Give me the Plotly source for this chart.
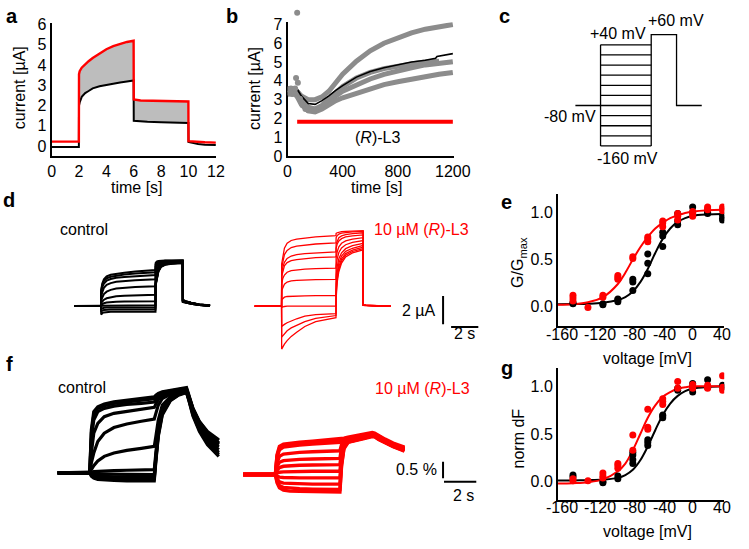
import plotly.graph_objects as go

W, H = 749, 549
FONT = "Arial, 'Liberation Sans', sans-serif"
RED = "#ff0000"
BLACK = "#000000"

# ---------------- panel a ----------------
A_TIME = [0, 1.99, 2.0, 2.05, 2.2, 2.45, 2.7, 3.0, 3.5, 4.0, 4.5, 5.0, 5.5, 5.99,
          6.0, 6.5, 7.0, 8.0, 9.0, 9.99, 10.0, 10.3, 10.7, 11.2, 12.0]
A_RL3 = [0.22, 0.22, 3.55, 3.7, 3.87, 4.05, 4.19, 4.35, 4.58, 4.78, 4.93, 5.05, 5.14, 5.2,
         2.3, 2.25, 2.24, 2.22, 2.21, 2.2, 0.24, 0.22, 0.2, 0.19, 0.17]
A_CONTROL = [-0.05, -0.05, 2.0, 2.15, 2.43, 2.62, 2.72, 2.85, 2.95, 3.02, 3.08, 3.14, 3.19, 3.24,
             1.25, 1.22, 1.2, 1.18, 1.16, 1.14, 0.2, 0.15, 0.1, 0.07, 0.05]
A_FILL_START, A_FILL_END = 2.0, 9.99

# ---------------- panel b ----------------
B_TIME = [0, 25, 50, 75, 100, 150, 200, 250, 300, 350, 400, 500, 600, 700, 800, 900, 1000, 1100, 1200]
B_CELL1 = [3.6, 3.6, 3.6, 3.4, 3.2, 3.0, 3.0, 3.15, 3.45, 3.9, 4.35, 5.05, 5.6, 6.0, 6.3, 6.55, 6.75, 6.9, 7.0]
B_CELL2 = [3.3, 3.3, 3.3, 3.2, 2.9, 2.55, 2.5, 2.65, 2.95, 3.2, 3.45, 3.8, 4.1, 4.35, 4.55, 4.7, 4.85, 4.95, 5.02]
B_CELL3 = [3.3, 3.3, 3.35, 3.1, 2.75, 2.4, 2.35, 2.5, 2.75, 2.95, 3.1, 3.35, 3.6, 3.8, 3.95, 4.1, 4.25, 4.35, 4.45]
B_CELL4 = [3.4, 3.4, 3.5, 3.4, 3.0, 2.6, 2.5, 2.7, 3.05, 3.4, 3.7, 4.15, 4.45, 4.65, 4.8, 4.9, 5.0, 5.05, None]
B_MEAN_T = [0, 25, 50, 60, 75, 100, 150, 200, 250, 300, 350, 400, 500, 600, 700, 800, 900, 1000, 1075, 1085, 1200]
B_MEAN = [3.4, 3.45, 3.55, 3.7, 3.5, 3.2, 2.8, 2.75, 2.95, 3.2, 3.5, 3.75, 4.2, 4.5, 4.7, 4.85, 5.0, 5.1, 5.2, 5.3, 5.45]
B_EARLY_T = [5, 15, 25, 35, 45, 55, 70, 62, 75, 90, 110, 130, 150, 170]
B_EARLY_I = [3.55, 3.35, 3.6, 3.3, 3.45, 3.6, 7.62, 4.15, 3.9, 3.05, 2.7, 2.5, 2.45, 2.5]
B_DRUG_T = [70, 1200]
B_DRUG_LEVEL = 1.83

# ---------------- panel c ----------------
C_TIME = [0, 2, 6, 8, 10]
C_HOLD = -80
C_STEPS = [-160, -140, -120, -100, -80, -60, -40, -20, 0, 20, 40]
C_POST = 60

# ---------------- panel d ----------------
VOLTAGES = [40, 20, 0, -20, -40, -60, -80, -100, -120, -140, -160]
D_TIME = [0, 1.99, 2.0, 2.08, 2.2, 2.4, 2.7, 3.1, 3.7, 4.5, 5.99,
          6.0, 6.08, 6.2, 6.4, 6.7, 7.2, 7.99,
          8.0, 8.2, 8.6, 9.2, 10.0]
D_CTRL_TRACES = [
    [0, 0, 1.15, 1.6, 1.9, 2.1, 2.22, 2.3, 2.37, 2.45, 2.55, 3.05, 3.15, 3.2, 3.22, 3.23, 3.24, 3.25, 0.3, 0.25, 0.17, 0.08, 0.02],
    [0, 0, 1.05, 1.5, 1.78, 1.97, 2.08, 2.16, 2.24, 2.31, 2.4, 2.95, 3.08, 3.15, 3.19, 3.21, 3.22, 3.23, 0.32, 0.26, 0.17, 0.08, 0.02],
    [0, 0, 0.95, 1.35, 1.6, 1.8, 1.92, 2.0, 2.06, 2.12, 2.2, 2.8, 2.98, 3.08, 3.14, 3.17, 3.19, 3.2, 0.3, 0.25, 0.16, 0.07, 0.01],
    [0, 0, 0.75, 1.05, 1.3, 1.5, 1.63, 1.72, 1.78, 1.83, 1.9, 2.6, 2.85, 2.98, 3.07, 3.12, 3.15, 3.17, 0.34, 0.27, 0.18, 0.09, 0.03],
    [0, 0, 0.45, 0.65, 0.85, 1.02, 1.15, 1.24, 1.31, 1.35, 1.4, 2.3, 2.6, 2.85, 3.0, 3.08, 3.12, 3.15, 0.36, 0.29, 0.19, 0.09, 0.02],
    [0, 0, 0.25, 0.35, 0.45, 0.55, 0.63, 0.69, 0.74, 0.77, 0.8, 1.9, 2.35, 2.7, 2.93, 3.03, 3.09, 3.12, 0.38, 0.3, 0.2, 0.1, 0.03],
    [0, 0, 0.1, 0.15, 0.2, 0.25, 0.28, 0.3, 0.32, 0.33, 0.35, 1.7, 2.2, 2.6, 2.88, 3.0, 3.06, 3.1, 0.4, 0.31, 0.21, 0.1, 0.03],
    [0, 0, 0.0, 0.02, 0.03, 0.04, 0.04, 0.05, 0.05, 0.05, 0.05, 1.6, 2.1, 2.55, 2.85, 2.98, 3.04, 3.08, 0.4, 0.32, 0.22, 0.11, 0.04],
    [0, 0, -0.2, -0.15, -0.12, -0.1, -0.1, -0.1, -0.1, -0.1, -0.1, 1.55, 2.05, 2.5, 2.82, 2.96, 3.03, 3.07, 0.42, 0.33, 0.22, 0.11, 0.04],
    [0, 0, -0.4, -0.32, -0.28, -0.26, -0.25, -0.25, -0.25, -0.25, -0.25, 1.5, 2.0, 2.47, 2.8, 2.95, 3.02, 3.06, 0.43, 0.34, 0.23, 0.12, 0.04],
    [0, 0, -0.6, -0.5, -0.45, -0.42, -0.41, -0.4, -0.4, -0.4, -0.4, 1.45, 1.95, 2.43, 2.78, 2.93, 3.0, 3.05, 0.44, 0.35, 0.24, 0.12, 0.05],
]
D_RL3_TRACES = [
    [0, 0, 3.0, 3.6, 4.1, 4.45, 4.65, 4.75, 4.83, 4.9, 4.99, 5.15, 5.2, 5.25, 5.28, 5.3, 5.32, 5.35, 0.06, 0.05, 0.03, 0.02, 0.0],
    [0, 0, 2.7, 3.2, 3.65, 3.95, 4.15, 4.25, 4.33, 4.4, 4.48, 4.85, 5.0, 5.1, 5.17, 5.22, 5.26, 5.3, 0.06, 0.05, 0.03, 0.02, 0.0],
    [0, 0, 2.3, 2.75, 3.1, 3.38, 3.55, 3.65, 3.72, 3.78, 3.84, 4.4, 4.65, 4.85, 4.98, 5.07, 5.14, 5.2, 0.05, 0.04, 0.03, 0.01, 0.0],
    [0, 0, 2.1, 2.5, 2.85, 3.08, 3.22, 3.3, 3.37, 3.43, 3.49, 4.1, 4.4, 4.62, 4.78, 4.9, 4.98, 5.05, 0.05, 0.04, 0.02, 0.01, 0.0],
    [0, 0, 1.6, 1.95, 2.2, 2.4, 2.52, 2.58, 2.62, 2.66, 2.69, 3.4, 3.85, 4.2, 4.45, 4.62, 4.75, 4.85, 0.05, 0.04, 0.02, 0.01, 0.0],
    [0, 0, 1.1, 1.35, 1.55, 1.7, 1.78, 1.82, 1.85, 1.87, 1.89, 2.8, 3.35, 3.8, 4.12, 4.35, 4.52, 4.65, 0.06, 0.05, 0.03, 0.02, 0.0],
    [0, 0, 0.45, 0.55, 0.63, 0.68, 0.7, 0.72, 0.73, 0.74, 0.74, 2.1, 2.8, 3.35, 3.78, 4.07, 4.28, 4.45, 0.06, 0.05, 0.03, 0.02, 0.0],
    [0, 0, -0.1, -0.06, -0.03, -0.01, 0, 0, 0, 0, 0, 1.6, 2.4, 3.05, 3.55, 3.88, 4.1, 4.3, 0.07, 0.05, 0.03, 0.02, 0.0],
    [0, 0, -1.45, -1.38, -1.3, -1.18, -1.05, -0.9, -0.72, -0.6, -0.53, 1.1, 2.1, 2.8, 3.35, 3.72, 3.97, 4.18, 0.07, 0.05, 0.03, 0.02, 0.0],
    [0, 0, -2.2, -2.1, -1.95, -1.75, -1.55, -1.35, -1.1, -0.88, -0.67, 0.8, 1.9, 2.62, 3.2, 3.6, 3.87, 4.08, 0.07, 0.05, 0.03, 0.02, 0.0],
    [0, 0, -3.05, -2.9, -2.7, -2.45, -2.15, -1.85, -1.45, -1.1, -0.82, 0.5, 1.7, 2.45, 3.05, 3.48, 3.77, 3.98, 0.08, 0.06, 0.04, 0.02, 0.0],
]
D_SCALE_UA = 2
D_SCALE_S = 2

# ---------------- panel f ----------------
F_TIME = [0, 2.0, 2.1, 2.25, 2.5, 2.9, 3.5, 4.3, 5.2, 6.0,
          6.1, 6.25, 6.5, 7.0, 7.5, 8.0,
          8.15, 8.4, 8.8, 9.3, 10.0]
F_CTRL_TRACES = [
    [0, 0, 1.3, 1.85, 2.0, 2.08, 2.15, 2.2, 2.25, 2.3, 2.35, 2.4, 2.45, 2.5, 2.55, 2.58, 2.35, 1.95, 1.55, 1.22, 0.98],
    [0, 0, 1.2, 1.75, 1.95, 2.03, 2.1, 2.15, 2.2, 2.24, 2.3, 2.37, 2.43, 2.48, 2.52, 2.55, 2.32, 1.92, 1.5, 1.17, 0.9],
    [0, 0, 1.0, 1.6, 1.85, 1.95, 2.02, 2.07, 2.1, 2.14, 2.22, 2.32, 2.4, 2.46, 2.5, 2.53, 2.3, 1.9, 1.48, 1.15, 0.88],
    [0, 0, 0.6, 1.2, 1.5, 1.7, 1.8, 1.86, 1.93, 1.98, 2.08, 2.22, 2.33, 2.42, 2.47, 2.5, 2.28, 1.88, 1.45, 1.12, 0.85],
    [0, 0, 0.3, 0.6, 0.95, 1.2, 1.37, 1.48, 1.56, 1.63, 1.8, 2.05, 2.25, 2.38, 2.45, 2.5, 2.3, 1.95, 1.55, 1.25, 1.0],
    [0, 0, 0.1, 0.22, 0.36, 0.5, 0.6, 0.68, 0.74, 0.8, 1.1, 1.6, 2.05, 2.3, 2.42, 2.48, 2.25, 1.85, 1.4, 1.05, 0.78],
    [0, 0, 0.02, 0.04, 0.05, 0.06, 0.07, 0.08, 0.09, 0.1, 0.6, 1.35, 1.95, 2.28, 2.4, 2.47, 2.27, 1.9, 1.5, 1.15, 0.9],
    [0, 0, -0.03, -0.04, -0.04, -0.04, -0.04, -0.04, -0.05, -0.05, 0.5, 1.25, 1.9, 2.25, 2.38, 2.46, 2.24, 1.82, 1.38, 1.0, 0.7],
    [0, 0, -0.05, -0.08, -0.1, -0.11, -0.12, -0.12, -0.12, -0.12, 0.45, 1.2, 1.85, 2.22, 2.37, 2.45, 2.22, 1.8, 1.35, 0.95, 0.62],
    [0, 0, -0.07, -0.12, -0.15, -0.16, -0.17, -0.18, -0.18, -0.18, 0.4, 1.15, 1.8, 2.2, 2.36, 2.44, 2.2, 1.75, 1.3, 0.9, 0.56],
    [0, 0, -0.1, -0.16, -0.2, -0.22, -0.23, -0.24, -0.24, -0.24, 0.35, 1.1, 1.75, 2.18, 2.35, 2.43, 2.18, 1.72, 1.25, 0.85, 0.5],
]
F_RL3_TRACES = [
    [-0.05, -0.05, 0.55, 0.8, 0.87, 0.9, 0.93, 0.96, 0.99, 1.02, 1.03, 1.05, 1.08, 1.12, 1.16, 1.22, 1.2, 1.12, 1.02, 0.9, 0.78],
    [-0.05, -0.05, 0.5, 0.75, 0.83, 0.86, 0.89, 0.92, 0.95, 0.98, 1.0, 1.03, 1.06, 1.1, 1.14, 1.2, 1.18, 1.1, 1.0, 0.88, 0.75],
    [-0.05, -0.05, 0.45, 0.7, 0.78, 0.81, 0.84, 0.87, 0.9, 0.92, 0.97, 1.0, 1.04, 1.08, 1.13, 1.19, 1.17, 1.09, 0.99, 0.87, 0.74],
    [-0.05, -0.05, 0.3, 0.5, 0.57, 0.6, 0.62, 0.64, 0.66, 0.67, 0.85, 0.95, 1.01, 1.06, 1.11, 1.17, 1.16, 1.08, 0.98, 0.86, 0.73],
    [-0.05, -0.05, 0.2, 0.32, 0.37, 0.39, 0.41, 0.42, 0.43, 0.44, 0.75, 0.92, 0.99, 1.05, 1.1, 1.16, 1.15, 1.07, 0.97, 0.85, 0.72],
    [-0.05, -0.05, 0.08, 0.16, 0.2, 0.22, 0.23, 0.24, 0.25, 0.25, 0.65, 0.9, 0.98, 1.04, 1.09, 1.15, 1.14, 1.06, 0.96, 0.84, 0.71],
    [-0.05, -0.05, -0.01, 0.02, 0.03, 0.04, 0.04, 0.05, 0.05, 0.05, 0.55, 0.87, 0.97, 1.03, 1.08, 1.14, 1.13, 1.05, 0.95, 0.83, 0.7],
    [-0.05, -0.05, -0.1, -0.13, -0.14, -0.15, -0.15, -0.15, -0.15, -0.15, 0.45, 0.84, 0.96, 1.02, 1.07, 1.13, 1.12, 1.04, 0.94, 0.82, 0.69],
    [-0.05, -0.05, -0.18, -0.27, -0.31, -0.32, -0.33, -0.34, -0.34, -0.34, 0.35, 0.8, 0.94, 1.01, 1.06, 1.12, 1.11, 1.03, 0.93, 0.81, 0.68],
    [-0.05, -0.05, -0.25, -0.38, -0.44, -0.46, -0.48, -0.49, -0.5, -0.5, 0.25, 0.76, 0.93, 1.0, 1.05, 1.11, 1.1, 1.02, 0.92, 0.8, 0.67],
    [-0.05, -0.05, -0.3, -0.45, -0.52, -0.55, -0.56, -0.57, -0.58, -0.58, 0.2, 0.73, 0.92, 0.99, 1.04, 1.1, 1.09, 1.01, 0.91, 0.79, 0.66],
]
F_SCALE_PCT = 0.5
F_SCALE_S = 2

# ---------------- panels e and g ----------------
V_TICKS = [-160, -120, -80, -40, 0, 40]
V_TICK_LABELS = ["-160", "-120", "-80", "-40", "0", "40"]
FIT_V = [-180, -160, -140, -120, -100, -90, -80, -70, -60, -50, -40, -30, -20, -10, 0, 20, 40]

E_CTRL_V = [-160, -160, -120, -120, -100, -100, -100, -80, -80, -80, -60, -60, -60, -40, -40, -40,
            -20, -20, -20, 0, 0, 20, 20, 40, 40, 40]
E_CTRL_G = [0.03, 0.04, 0.02, 0.03, 0.05, 0.07, 0.08, 0.29, 0.26, 0.17, 0.56, 0.46, 0.35, 0.79, 0.75, 0.64,
            0.99, 0.91, 0.87, 1.06, 1.0, 1.0, 0.99, 0.94, 0.92, 0.97]
E_RL3_V = [-160, -160, -160, -140, -120, -120, -100, -100, -100, -80, -80, -60, -60, -60, -40, -40, -40,
           -20, -20, -20, 0, 0, 0, 20, 20, 20, 40, 40, 40]
E_RL3_G = [0.12, 0.09, 0.06, -0.01, 0.12, 0.10, 0.33, 0.31, 0.29, 0.53, 0.51, 0.74, 0.72, 0.69, 0.91, 0.89, 0.85,
           0.99, 0.96, 0.92, 1.01, 0.99, 0.96, 1.06, 1.04, 1.03, 1.06, 1.04, 1.02]
E_CTRL_FIT = [0.025, 0.027, 0.03, 0.04, 0.07, 0.1, 0.16, 0.26, 0.4, 0.57, 0.72, 0.83, 0.9, 0.94, 0.965, 0.98, 0.985]
E_RL3_FIT = [0.02, 0.025, 0.045, 0.1, 0.24, 0.36, 0.5, 0.63, 0.74, 0.83, 0.89, 0.94, 0.97, 0.995, 1.01, 1.025, 1.03]

G_CTRL_V = [-160, -160, -120, -120, -100, -100, -80, -80, -80, -80, -60, -60, -60, -40, -40, -40,
            -20, -20, 0, 0, 0, 20, 20, 40, 40]
G_CTRL_F = [0.07, 0.05, 0.0, -0.01, 0.06, 0.03, 0.31, 0.28, 0.23, 0.19, 0.44, 0.41, 0.38, 0.70, 0.69, 0.67,
            0.98, 0.96, 1.03, 0.99, 0.94, 1.07, 0.99, 1.01, 0.99]
G_RL3_V = [-160, -160, -140, -120, -120, -120, -100, -100, -100, -80, -80, -60, -60, -60, -40, -40, -40,
           -20, -20, 0, 0, 0, 20, 20, 20, 40, 40, 40]
G_RL3_F = [0.03, 0.01, 0.01, 0.09, 0.06, 0.04, 0.19, 0.17, 0.14, 0.49, 0.33, 0.76, 0.57, 0.55, 0.87, 0.84, 0.81,
           1.05, 0.98, 1.02, 0.99, 0.98, 1.01, 0.99, 0.98, 1.11, 0.99, 0.96]
G_CTRL_FIT = [0.012, 0.013, 0.016, 0.022, 0.04, 0.07, 0.125, 0.225, 0.37, 0.54, 0.7, 0.82, 0.9, 0.95, 0.975, 0.993, 1.0]
G_RL3_FIT = [-0.02, -0.015, -0.005, 0.025, 0.11, 0.19, 0.33, 0.5, 0.67, 0.8, 0.89, 0.94, 0.975, 0.99, 1.0, 1.0, 1.0]


# ---------------- helpers ----------------
def fx(p):
    return p / W


def fy(p):
    return 1 - p / H


fig = go.Figure()

# ---- panel b early single readings (hidden axis, same scale, reaching the top edge) ----
fig.add_trace(go.Scatter(x=B_EARLY_T, y=B_EARLY_I, mode="markers",
                         marker=dict(color="#8c8c8c", size=6), xaxis="x2", yaxis="y10"))

# ---- panel a ----
seg = [i for i, t in enumerate(A_TIME) if A_FILL_START <= t <= A_FILL_END]
fig.add_trace(go.Scatter(x=[A_TIME[i] for i in seg], y=[A_CONTROL[i] for i in seg], mode="lines",
                         line=dict(width=0, color="rgba(0,0,0,0)"), xaxis="x", yaxis="y"))
fig.add_trace(go.Scatter(x=[A_TIME[i] for i in seg], y=[A_RL3[i] for i in seg], mode="lines",
                         line=dict(width=0, color="rgba(0,0,0,0)"), fill="tonexty",
                         fillcolor="#bdbdbd", xaxis="x", yaxis="y"))
fig.add_trace(go.Scatter(x=A_TIME, y=A_CONTROL, mode="lines", line=dict(color=BLACK, width=2),
                         xaxis="x", yaxis="y"))
fig.add_trace(go.Scatter(x=A_TIME, y=A_RL3, mode="lines", line=dict(color=RED, width=2.4),
                         xaxis="x", yaxis="y"))

# ---- panel b ----
for cell in (B_CELL1, B_CELL2, B_CELL3, B_CELL4):
    fig.add_trace(go.Scatter(x=B_TIME, y=cell, mode="lines", line=dict(color="#8c8c8c", width=5),
                             xaxis="x2", yaxis="y2"))
fig.add_trace(go.Scatter(x=B_MEAN_T, y=B_MEAN, mode="lines", line=dict(color=BLACK, width=1.6),
                         xaxis="x2", yaxis="y2"))
fig.add_trace(go.Scatter(x=B_DRUG_T, y=[B_DRUG_LEVEL] * len(B_DRUG_T), mode="lines",
                         line=dict(color=RED, width=4), xaxis="x2", yaxis="y2"))

# ---- panel c ----
cx, cy = [], []
for v in C_STEPS:
    cx += [C_TIME[1], C_TIME[2], None]
    cy += [v, v, None]
cx += [C_TIME[0], C_TIME[1], None, C_TIME[1], C_TIME[1], None,
       C_TIME[2], C_TIME[2], C_TIME[3], C_TIME[3], C_TIME[4]]
cy += [C_HOLD, C_HOLD, None, min(C_STEPS), max(C_STEPS), None,
       min(C_STEPS), C_POST, C_POST, C_HOLD, C_HOLD]
fig.add_trace(go.Scatter(x=cx, y=cy, mode="lines", line=dict(color=BLACK, width=1.3),
                         xaxis="x3", yaxis="y3"))

# ---- panel d ----
for tr in D_CTRL_TRACES:
    fig.add_trace(go.Scatter(x=D_TIME, y=tr, mode="lines", line=dict(color=BLACK, width=2),
                             xaxis="x4", yaxis="y4"))
for tr in D_RL3_TRACES:
    fig.add_trace(go.Scatter(x=D_TIME, y=tr, mode="lines", line=dict(color=RED, width=1.3),
                             xaxis="x5", yaxis="y5"))

# ---- panel f ----
for tr in F_CTRL_TRACES:
    fig.add_trace(go.Scatter(x=F_TIME, y=tr, mode="lines", line=dict(color=BLACK, width=3.2),
                             xaxis="x6", yaxis="y6"))
for tr in F_RL3_TRACES:
    fig.add_trace(go.Scatter(x=F_TIME, y=tr, mode="lines", line=dict(color=RED, width=3.4),
                             xaxis="x7", yaxis="y7"))

# ---- panels e, g ----
for xa, ya, fc, fr, cv, cg, rv, rg in (
        ("x8", "y8", E_CTRL_FIT, E_RL3_FIT, E_CTRL_V, E_CTRL_G, E_RL3_V, E_RL3_G),
        ("x9", "y9", G_CTRL_FIT, G_RL3_FIT, G_CTRL_V, G_CTRL_F, G_RL3_V, G_RL3_F)):
    fig.add_trace(go.Scatter(x=FIT_V, y=fc, mode="lines", line=dict(color=BLACK, width=2, shape="spline"),
                             xaxis=xa, yaxis=ya))
    fig.add_trace(go.Scatter(x=FIT_V, y=fr, mode="lines", line=dict(color=RED, width=2, shape="spline"),
                             xaxis=xa, yaxis=ya))
    fig.add_trace(go.Scatter(x=cv, y=cg, mode="markers", marker=dict(color=BLACK, size=7),
                             xaxis=xa, yaxis=ya))
    fig.add_trace(go.Scatter(x=rv, y=rg, mode="markers", marker=dict(color=RED, size=7),
                             xaxis=xa, yaxis=ya))

# ---------------- axes ----------------
tickfont = dict(family=FONT, size=16, color=BLACK)
vis = dict(showline=True, linecolor=BLACK, linewidth=2, ticks="", showgrid=False, zeroline=False,
           tickfont=tickfont, fixedrange=True, tickangle=0)
hid = dict(visible=False, showgrid=False, zeroline=False, fixedrange=True)

B_BOTTOM_PX, B_TOP_PX, B_PX_PER_UA = 154.3, 16.7, 19.33

layout_axes = dict(
    xaxis=dict(vis, domain=[fx(49), fx(218)], range=[0, 12], tickvals=[0, 2, 4, 6, 8, 10, 12], anchor="y"),
    yaxis=dict(vis, domain=[fy(154), fy(17)], range=[-0.48, 6.1], tickvals=[0, 1, 2, 3, 4, 5, 6], anchor="x"),
    xaxis2=dict(vis, domain=[fx(291.7), fx(462.5)], range=[0, 1205], tickvals=[0, 400, 800, 1200], anchor="y2"),
    yaxis2=dict(vis, domain=[fy(B_BOTTOM_PX), fy(B_TOP_PX)], range=[0, (B_BOTTOM_PX - B_TOP_PX) / B_PX_PER_UA],
                tickvals=[0, 1, 2, 3, 4, 5, 6, 7], anchor="x2"),
    yaxis10=dict(hid, domain=[fy(B_BOTTOM_PX), 1.0], range=[0, B_BOTTOM_PX / B_PX_PER_UA], anchor="x2"),
    xaxis3=dict(hid, domain=[fx(587.7), fx(718)], range=[0, 10], anchor="y3"),
    yaxis3=dict(hid, domain=[fy(149.1), fy(24.3)], range=[-170, 70], anchor="x3"),
    xaxis4=dict(hid, domain=[fx(72), fx(214.8)], range=[0, 10.2], anchor="y4"),
    yaxis4=dict(hid, domain=[fy(359.25), fy(224.4)], range=[-3.5, 5.8], anchor="x4"),
    xaxis5=dict(hid, domain=[fx(257.7), fx(492.9)], range=[0, 16.8], anchor="y5"),
    yaxis5=dict(hid, domain=[fy(359.25), fy(224.4)], range=[-3.5, 5.8], anchor="x5"),
    xaxis6=dict(hid, domain=[fx(55), fx(224.3)], range=[0, 10.2], anchor="y6"),
    yaxis6=dict(hid, domain=[fy(507.2), fy(381.4)], range=[-0.8, 2.9], anchor="x6"),
    xaxis7=dict(hid, domain=[fx(246), fx(488.4)], range=[0, 14.6], anchor="y7"),
    yaxis7=dict(hid, domain=[fy(507.2), fy(381.4)], range=[-0.8, 2.9], anchor="x7"),
    xaxis8=dict(vis, domain=[fx(570), fx(741)], range=[-180, 42.2], showticklabels=False, anchor="y8"),
    yaxis8=dict(vis, domain=[fy(329.3), fy(193)], range=[-0.21, 1.2], tickvals=[0, 0.5, 1.0], tickformat=".1f", anchor="x8"),
    xaxis9=dict(vis, domain=[fx(570), fx(741)], range=[-180, 42.2], showticklabels=False, anchor="y9"),
    yaxis9=dict(vis, domain=[fy(507.7), fy(371.7)], range=[-0.19, 1.197], tickvals=[0, 0.5, 1.0], tickformat=".1f", anchor="x9"),
)

# ---------------- scale bars ----------------
shapes = []
d_bar_x, d_bar_y = 13.86, 0.72
shapes.append(dict(type="line", xref="x5", yref="y5", x0=d_bar_x, x1=d_bar_x,
                   y0=d_bar_y, y1=d_bar_y - D_SCALE_UA, line=dict(color=BLACK, width=2)))
d_hbar_x, d_hbar_y = 14.45, -1.48
shapes.append(dict(type="line", xref="x5", yref="y5", x0=d_hbar_x, x1=d_hbar_x + D_SCALE_S,
                   y0=d_hbar_y, y1=d_hbar_y, line=dict(color=BLACK, width=2)))
f_bar_x, f_bar_y = 12.39, 0.34
shapes.append(dict(type="line", xref="x7", yref="y7", x0=f_bar_x, x1=f_bar_x,
                   y0=f_bar_y, y1=f_bar_y - F_SCALE_PCT, line=dict(color=BLACK, width=2)))
f_hbar_x, f_hbar_y = 12.45, -0.27
shapes.append(dict(type="line", xref="x7", yref="y7", x0=f_hbar_x, x1=f_hbar_x + F_SCALE_S,
                   y0=f_hbar_y, y1=f_hbar_y, line=dict(color=BLACK, width=2)))

# ---------------- text ----------------
ann = []


def text(s, x, y, size=16, color=BLACK, xanchor="center", angle=0, bold=False):
    ann.append(dict(text=("<b>%s</b>" % s) if bold else s, x=fx(x), y=fy(y), xref="paper", yref="paper",
                    showarrow=False, xanchor=xanchor, yanchor="middle", textangle=angle,
                    font=dict(family=FONT, size=size, color=color)))


for letter, x, y in (("a", 8, 10), ("b", 235, 10), ("c", 515, 10), ("d", 5, 199),
                     ("e", 517, 201), ("f", 6, 368), ("g", 517, 372)):
    text(letter, x, y, size=20, bold=True)

text("current [µA]", 16, 84, angle=-90)
text("time [s]", 136.5, 187)
text("current [µA]", 257.5, 85, angle=-90)
text("time [s]", 383.5, 187)
text("(<i>R</i>)-L3", 384, 135)

text("+60 mV", 691.5, 15)
text("+40 mV", 632, 28)
text("-80 mV", 582.5, 114)
text("-160 mV", 641, 157)

text("control", 82.5, 230)
text("10 µM (<i>R</i>)-L3", 480, 230, color=RED, xanchor="right")
text("2 µA", 447, 313, xanchor="right")
text("2 s", 473.5, 337)

text("control", 80.5, 392)
text("10 µM (<i>R</i>)-L3", 482, 393, color=RED, xanchor="right")
text("0.5 %", 448, 477, xanchor="right")
text("2 s", 472.5, 503)

# voltage tick labels (placed like the reference, labels spread slightly wider than the ticks)
V_LABEL_PX = [574, 613.3, 649, 680, 708.3, 738.3]
for lab, xp in zip(V_TICK_LABELS, V_LABEL_PX):
    text(lab, xp, 338)
    text(lab, xp, 516)

text("G/G<sub>max</sub>", 530, 264, angle=-90)
text("voltage [mV]", 662.5, 362)
text("norm dF", 529.5, 445, angle=-90)
text("voltage [mV]", 662.5, 540)

fig.update_layout(
    width=W, height=H, autosize=False,
    margin=dict(l=0, r=0, t=0, b=0),
    paper_bgcolor="white", plot_bgcolor="rgba(0,0,0,0)",
    showlegend=False, font=dict(family=FONT, size=16, color=BLACK),
    shapes=shapes, annotations=ann, hovermode=False,
    **layout_axes,
)

fig.write_html("out.html", config={"displayModeBar": False, "staticPlot": True})

# remove the default page margin so the figure sits at the window's top-left corner
with open("out.html", "r", encoding="utf-8") as fh:
    page = fh.read()
page = page.replace("<head>", "<head><style>html,body{margin:0;padding:0;overflow:hidden;}</style>", 1)
with open("out.html", "w", encoding="utf-8") as fh:
    fh.write(page)
